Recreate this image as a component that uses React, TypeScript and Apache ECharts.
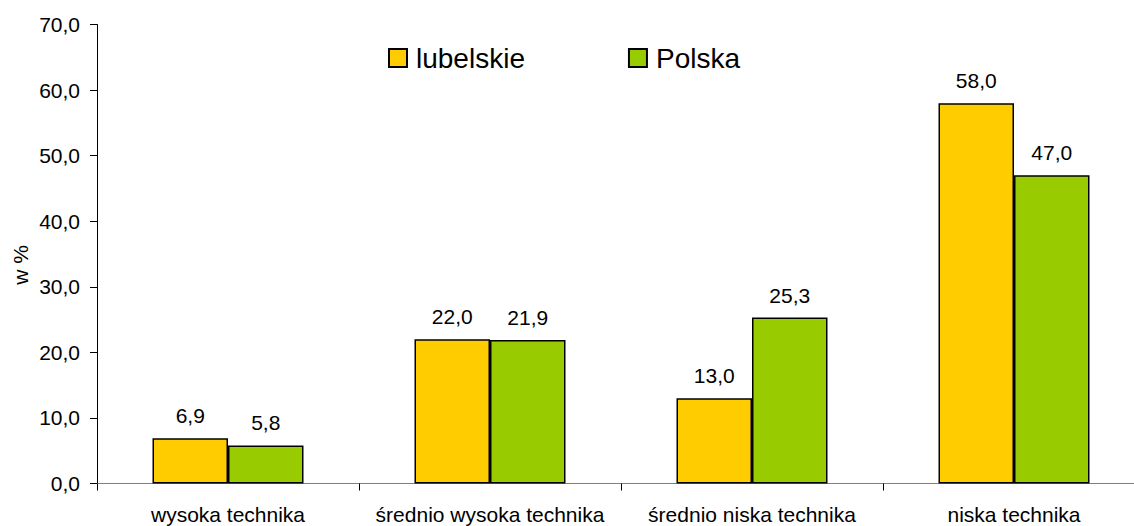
import React, { useEffect, useRef } from "react";
import * as echarts from "echarts";

const categories = ["wysoka technika", "średnio wysoka technika", "średnio niska technika", "niska technika"];
const lubelskie = [6.9, 22.0, 13.0, 58.0];
const polska = [5.8, 21.9, 25.3, 47.0];
const seriesNames = ["lubelskie", "Polska"];
const yMin = 0;
const yMax = 70;
const yStep = 10;

const FONT = "'Liberation Sans', Arial, sans-serif";
const fmt = (v: number) => v.toFixed(1).replace(".", ",");

export default function App() {
  const ref = useRef<HTMLDivElement>(null);
  useEffect(() => {
    if (!ref.current) return;
    const chart = echarts.init(ref.current, undefined, { renderer: "svg" });
    chart.setOption({
      animation: false,
      backgroundColor: "#ffffff",
      grid: { left: 97, right: 0, top: 24.5, bottom: 42.5, containLabel: false },
      legend: {
        left: 383,
        top: 39,
        itemWidth: 18,
        itemHeight: 18,
        itemGap: 103,
        icon: "rect",
        data: seriesNames,
        textStyle: { fontFamily: FONT, fontSize: 28, color: "#000", lineHeight: 28, padding: [0, 0, 0, 4] },
      },
      graphic: [
        {
          type: "text",
          x: 20,
          y: 265,
          rotation: Math.PI / 2,
          style: {
            text: "w %",
            font: `21px ${FONT}`,
            fill: "#000",
            textAlign: "center",
            textVerticalAlign: "middle",
          },
        },
      ],
      xAxis: {
        type: "category",
        data: categories,
        axisLine: { lineStyle: { color: "#808080", width: 1 } },
        axisTick: { show: true, interval: 0, length: 7, lineStyle: { color: "#000" } },
        axisLabel: { interval: 0, fontFamily: FONT, fontSize: 21, color: "#000", margin: 20 },
      },
      yAxis: {
        type: "value",
        min: yMin,
        max: yMax,
        interval: yStep,
        splitLine: { show: false },
        axisLine: { show: true, lineStyle: { color: "#000", width: 1 } },
        axisTick: { show: true, length: 7, inside: false, lineStyle: { color: "#000" } },
        axisLabel: { fontFamily: FONT, fontSize: 21, color: "#000", margin: 17, formatter: (v: number) => fmt(v) },
      },
      series: [
        {
          name: seriesNames[0],
          type: "bar",
          data: lubelskie,
          barWidth: 75.5,
          barGap: "0%",
          itemStyle: { color: "#FFCC00", borderColor: "#000", borderWidth: 1.5 },
          label: {
            show: true,
            position: "top",
            distance: 12,
            fontFamily: FONT,
            fontSize: 21,
            color: "#000",
            formatter: (p: any) => fmt(p.value),
          },
        },
        {
          name: seriesNames[1],
          type: "bar",
          data: polska,
          barWidth: 75.5,
          barGap: "0%",
          itemStyle: { color: "#99CC00", borderColor: "#000", borderWidth: 1.5 },
          label: {
            show: true,
            position: "top",
            distance: 12,
            fontFamily: FONT,
            fontSize: 21,
            color: "#000",
            formatter: (p: any) => fmt(p.value),
          },
        },
      ],
    });
    return () => chart.dispose();
  }, []);
  return (
    <div style={{ position: "absolute", left: 0, top: 0, width: 1134, height: 526, overflow: "hidden", background: "#fff" }}>
      <div ref={ref} style={{ width: 1145, height: 526 }} />
    </div>
  );
}
